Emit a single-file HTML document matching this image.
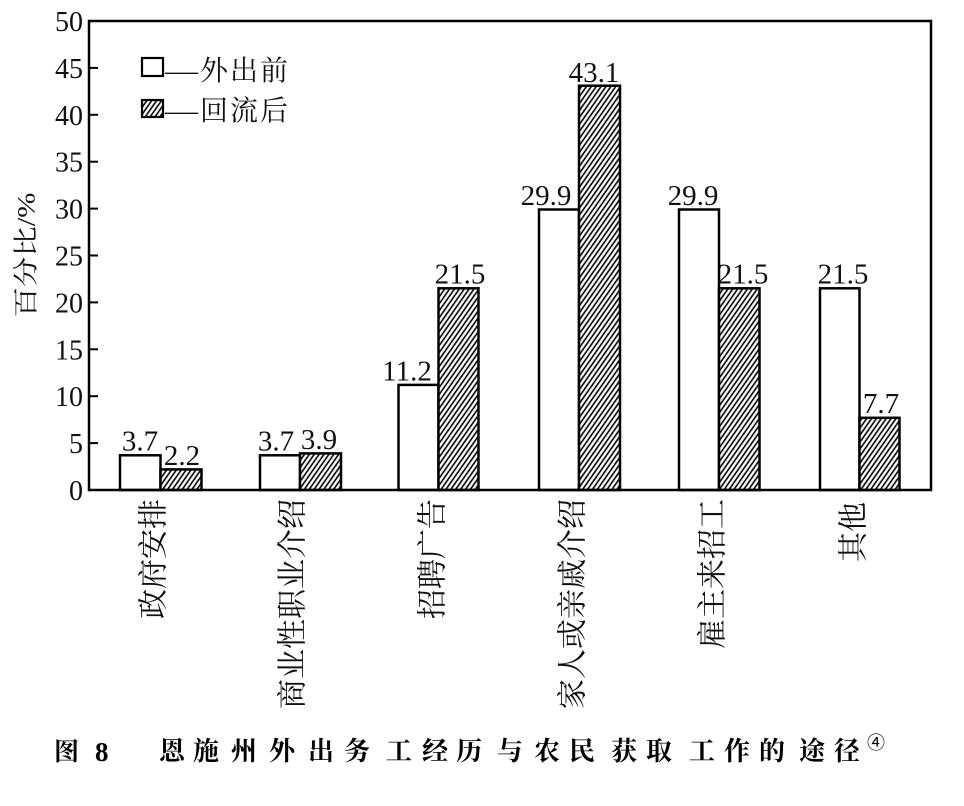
<!DOCTYPE html>
<html>
<head>
<meta charset="utf-8">
<style>
  html,body{margin:0;padding:0;background:#fff;}
  svg{display:block;}
  .num{font-family:"Liberation Serif",serif;fill:#111;}
  .cjk{font-family:"Liberation Serif","Noto Serif CJK SC",serif;fill:#111;}
  .cap{font-family:"Liberation Serif","Noto Serif CJK SC",serif;fill:#000;font-weight:700;}
</style>
</head>
<body>
<svg width="964" height="806" viewBox="0 0 964 806" xmlns="http://www.w3.org/2000/svg">
  <defs>
    <pattern id="h" patternUnits="userSpaceOnUse" width="4" height="4" patternTransform="rotate(35)">
      <rect width="4" height="4" fill="#fff"/>
      <line x1="2" y1="-1" x2="2" y2="5" stroke="#000" stroke-width="1.6"/>
    </pattern>
  </defs>
  <rect width="964" height="806" fill="#fff"/>

  <!-- bars -->
  <g stroke="#000" stroke-width="2.5">
    <rect x="120" y="455.3" width="40.5" height="34.7" fill="#fff"/>
    <rect x="160.5" y="469.4" width="41" height="20.6" fill="url(#h)"/>
    <rect x="260" y="455.3" width="40" height="34.7" fill="#fff"/>
    <rect x="300" y="453.4" width="41" height="36.6" fill="url(#h)"/>
    <rect x="398.5" y="384.9" width="40" height="105.1" fill="#fff"/>
    <rect x="438.5" y="288.3" width="40" height="201.7" fill="url(#h)"/>
    <rect x="539" y="209.5" width="40" height="280.5" fill="#fff"/>
    <rect x="579" y="85.7" width="41" height="404.3" fill="url(#h)"/>
    <rect x="679" y="209.5" width="40" height="280.5" fill="#fff"/>
    <rect x="719" y="288.3" width="40.5" height="201.7" fill="url(#h)"/>
    <rect x="820" y="288.3" width="39.5" height="201.7" fill="#fff"/>
    <rect x="859.5" y="417.8" width="40" height="72.2" fill="url(#h)"/>
  </g>

  <!-- frame -->
  <rect x="89" y="21" width="842" height="469" fill="none" stroke="#000" stroke-width="2.5"/>

  <!-- ticks -->
  <g stroke="#000" stroke-width="2">
    <line x1="89" y1="490" x2="98" y2="490"/>
    <line x1="89" y1="443.1" x2="98" y2="443.1"/>
    <line x1="89" y1="396.2" x2="98" y2="396.2"/>
    <line x1="89" y1="349.3" x2="98" y2="349.3"/>
    <line x1="89" y1="302.4" x2="98" y2="302.4"/>
    <line x1="89" y1="255.5" x2="98" y2="255.5"/>
    <line x1="89" y1="208.6" x2="98" y2="208.6"/>
    <line x1="89" y1="161.7" x2="98" y2="161.7"/>
    <line x1="89" y1="114.8" x2="98" y2="114.8"/>
    <line x1="89" y1="67.9" x2="98" y2="67.9"/>
  </g>

  <!-- tick labels -->
  <g class="num" font-size="28" text-anchor="end">
    <text x="83" y="500">0</text>
    <text x="83" y="453.1">5</text>
    <text x="83" y="406.2">10</text>
    <text x="83" y="359.3">15</text>
    <text x="83" y="312.4">20</text>
    <text x="83" y="265.5">25</text>
    <text x="83" y="218.6">30</text>
    <text x="83" y="171.7">35</text>
    <text x="83" y="124.8">40</text>
    <text x="83" y="77.9">45</text>
    <text x="83" y="31">50</text>
  </g>

  <!-- y-axis label -->
  <text class="cjk" font-size="25" text-anchor="middle" dominant-baseline="central"
        transform="translate(27,255) rotate(-90)" textLength="125" lengthAdjust="spacingAndGlyphs">百分比/%</text>

  <!-- value labels -->
  <g class="num" font-size="29" text-anchor="middle">
    <text x="140" y="450.5">3.7</text>
    <text x="182" y="465">2.2</text>
    <text x="276" y="450.5">3.7</text>
    <text x="319" y="449">3.9</text>
    <text x="407" y="380.5">11.2</text>
    <text x="460" y="283.5">21.5</text>
    <text x="546" y="205">29.9</text>
    <text x="594" y="82">43.1</text>
    <text x="693" y="205">29.9</text>
    <text x="743" y="283.5">21.5</text>
    <text x="843" y="283.5">21.5</text>
    <text x="881" y="413">7.7</text>
  </g>

  <!-- legend -->
  <rect x="142" y="58" width="21" height="18" fill="#fff" stroke="#000" stroke-width="2.2"/>
  <text class="cjk" font-size="28" x="165" y="80" textLength="33" lengthAdjust="spacingAndGlyphs">—</text>
  <text class="cjk" font-size="28" y="80" x="200 230 260">外出前</text>
  <rect x="142" y="100" width="21" height="17" fill="url(#h)" stroke="#000" stroke-width="2.2"/>
  <text class="cjk" font-size="28" x="165" y="120" textLength="33" lengthAdjust="spacingAndGlyphs">—</text>
  <text class="cjk" font-size="28" y="120" x="200 230 260">回流后</text>

  <!-- category labels -->
  <g class="cjk" font-size="30" text-anchor="end" dominant-baseline="central">
    <text transform="translate(154,499) rotate(-90)">政府安排</text>
    <text transform="translate(293,499) rotate(-90)">商业性职业介绍</text>
    <text transform="translate(433,499) rotate(-90)">招聘广告</text>
    <text transform="translate(573,499) rotate(-90)">家人或亲戚介绍</text>
    <text transform="translate(713,499) rotate(-90)">雇主来招工</text>
    <text transform="translate(854,502) rotate(-90)">其他</text>
  </g>

  <!-- caption -->
  <text class="cap" font-size="25" x="54" y="760">图</text>
  <text class="cap" font-size="27" x="95" y="761" style="font-family:'Liberation Serif',serif">8</text>
  <text class="cap" font-size="26" y="760"
        x="159 193 231 269 308 344 386 422 456 497 534 569 611 646 689 724 759 799 834">恩施州外出务工经历与农民获取工作的途径</text>
  <text font-size="18" x="867" y="749" style="font-family:'Noto Sans CJK SC',sans-serif" fill="#000">④</text>
</svg>
</body>
</html>
